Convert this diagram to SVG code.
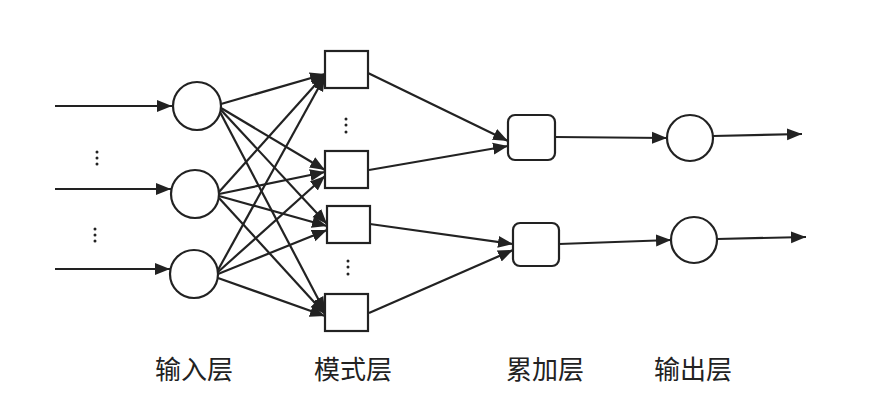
<svg xmlns="http://www.w3.org/2000/svg" width="880" height="412" viewBox="0 0 880 412">
<style>
.n{fill:#fff;stroke:#222;stroke-width:2.2}
.e line{stroke:#222;stroke-width:2.2;marker-end:url(#a)}
.t{font-family:"Noto Sans CJK SC",sans-serif;font-size:26px;fill:#222;text-anchor:middle}
.d{fill:#222}
</style>
<defs><marker id="a" viewBox="0 0 10 10" refX="10" refY="5" markerWidth="15" markerHeight="15" markerUnits="userSpaceOnUse" orient="auto"><path d="M0,1L10,5L0,9z" fill="#222"/></marker></defs>
<rect width="880" height="412" fill="#fff"/>
<g class="e" id="connectors">
<line x1="55" y1="106" x2="172" y2="106"/>
<line x1="55" y1="189" x2="171" y2="189"/>
<line x1="55" y1="269" x2="170" y2="269"/>
<line x1="221" y1="104" x2="325" y2="74"/>
<line x1="221" y1="108" x2="325" y2="170"/>
<line x1="221" y1="110" x2="327" y2="224"/>
<line x1="220" y1="112" x2="325" y2="312"/>
<line x1="219" y1="192" x2="325" y2="74"/>
<line x1="219" y1="194" x2="325" y2="172"/>
<line x1="219" y1="196" x2="327" y2="226"/>
<line x1="219" y1="198" x2="325" y2="314"/>
<line x1="218" y1="270" x2="325" y2="76"/>
<line x1="218" y1="272" x2="325" y2="176"/>
<line x1="218" y1="274" x2="327" y2="230"/>
<line x1="218" y1="278" x2="325" y2="316"/>
<line x1="368" y1="73" x2="508" y2="141"/>
<line x1="369" y1="170" x2="508" y2="146"/>
<line x1="370" y1="224" x2="513" y2="244"/>
<line x1="369" y1="313" x2="513" y2="250"/>
<line x1="555" y1="137" x2="667" y2="138"/>
<line x1="559" y1="244" x2="671" y2="240"/>
<line x1="713" y1="136" x2="802" y2="134"/>
<line x1="717" y1="239" x2="806" y2="237"/>
</g>
<g id="in1"><circle class="n" cx="197" cy="106" r="24"/></g>
<g id="in2"><circle class="n" cx="195" cy="194" r="24"/></g>
<g id="in3"><circle class="n" cx="194" cy="274" r="24"/></g>
<g id="p1"><rect class="n" x="325" y="51" width="43" height="37"/></g>
<g id="p2"><rect class="n" x="325" y="151" width="43" height="37"/></g>
<g id="p3"><rect class="n" x="327" y="206" width="43" height="37"/></g>
<g id="p4"><rect class="n" x="325" y="294" width="43" height="37"/></g>
<g id="s1"><rect class="n" x="508" y="115" width="47" height="45" rx="7"/></g>
<g id="s2"><rect class="n" x="513" y="223" width="46" height="43" rx="7"/></g>
<g id="o1"><circle class="n" cx="690" cy="138" r="23"/></g>
<g id="o2"><circle class="n" cx="694" cy="240" r="23"/></g>
<g id="dots">
<circle class="d" cx="97" cy="152" r="1.5"/><circle class="d" cx="97" cy="158" r="1.5"/><circle class="d" cx="97" cy="164" r="1.5"/>
<circle class="d" cx="95" cy="229" r="1.5"/><circle class="d" cx="95" cy="235" r="1.5"/><circle class="d" cx="95" cy="241" r="1.5"/>
<circle class="d" cx="346" cy="119" r="1.5"/><circle class="d" cx="346" cy="125" r="1.5"/><circle class="d" cx="346" cy="132" r="1.5"/>
<circle class="d" cx="348" cy="261" r="1.5"/><circle class="d" cx="348" cy="267" r="1.5"/><circle class="d" cx="348" cy="274" r="1.5"/>
</g>
<g id="labels">
<text class="t" x="194" y="379">输入层</text>
<text class="t" x="353" y="379">模式层</text>
<text class="t" x="545" y="379">累加层</text>
<text class="t" x="693" y="379">输出层</text>
</g>
</svg>
